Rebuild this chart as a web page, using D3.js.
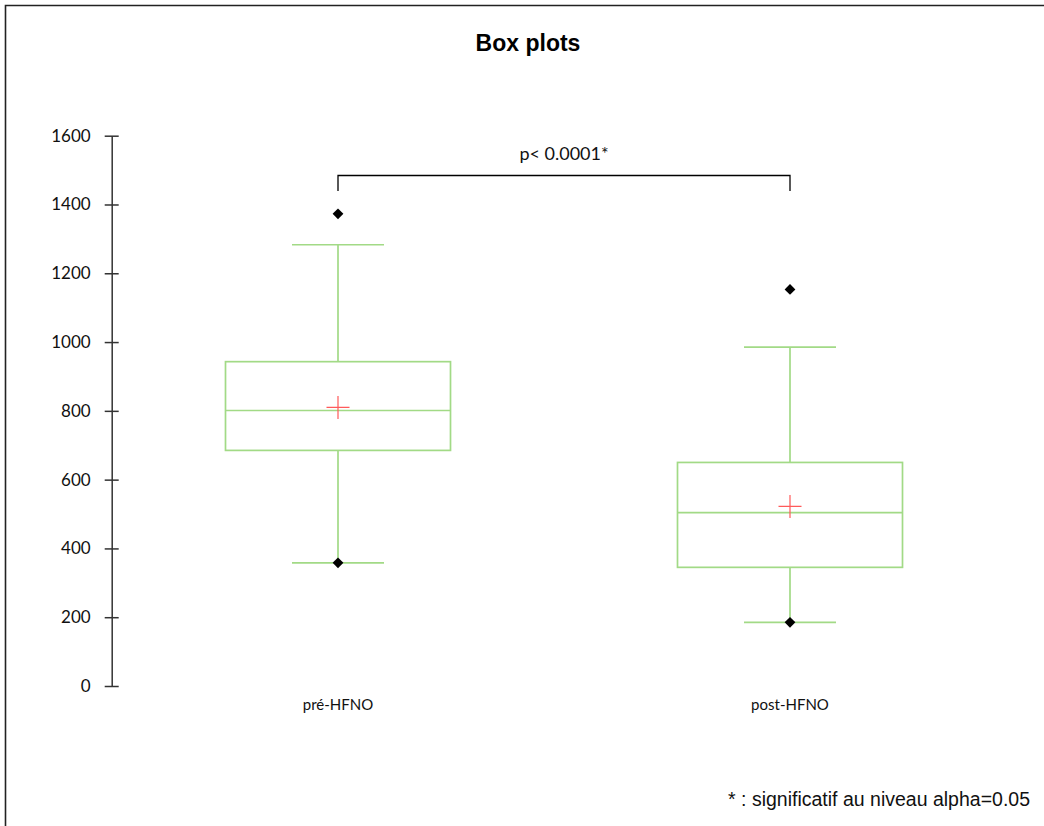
<!DOCTYPE html>
<html>
<head>
<meta charset="utf-8">
<script src="https://d3js.org/d3.v7.min.js"></script>
<style>
  body { margin: 0; background: #fff; }
  svg { display: block; }
</style>
</head>
<body>
<script>
// values
var categories = ["pré-HFNO", "post-HFNO"];
var q1 = [685, 345];
var medians = [801, 504];
var q3 = [943, 650];
var whiskerLow = [358, 185];
var whiskerHigh = [1283, 985];
var means = [810, 522];
var minima = [358, 185];
var maxima = [1373, 1153];
var yTicks = [0, 200, 400, 600, 800, 1000, 1200, 1400, 1600];
var pLabel = "p< 0.0001*";

var W = 1044, H = 826;
var green = "#a2da86", red = "#ff5a5a";

var svg = d3.select("body").append("svg")
    .attr("width", W)
    .attr("height", H);

// frame (top + left edge)
svg.append("path")
    .attr("d", "M5.5," + H + "V5.5H" + W)
    .attr("fill", "none")
    .attr("stroke", "#222")
    .attr("stroke-width", 1.6);

svg.append("text")
    .attr("x", 528).attr("y", 51)
    .attr("text-anchor", "middle")
    .style("font-family", "'Liberation Sans', Arial, sans-serif")
    .style("font-weight", "bold")
    .style("font-size", "23px")
    .text("Box plots");

var y = d3.scaleLinear().domain([0, 1600]).range([686, 135.7]);
var x = d3.scaleBand().domain(categories).range([112, 1016]).padding(0);
var cx = d => x(d) + x.bandwidth() / 2;

// y axis
var yAxis = svg.append("g")
    .attr("transform", "translate(111.7,0)")
    .call(d3.axisLeft(y).tickValues(yTicks).tickSize(7).tickSizeOuter(0).tickPadding(14).tickFormat(d3.format("d")));
yAxis.select(".domain").attr("stroke", "#333").attr("stroke-width", 1.5);
yAxis.selectAll(".tick line").attr("x1", 7).attr("stroke", "#333").attr("stroke-width", 1.5);
yAxis.selectAll(".tick text")
    .attr("fill", "#111")
    .style("font-family", "Lato, 'Open Sans', sans-serif")
    .style("font-size", "17px");

// category labels
svg.selectAll(".cat").data(categories).enter().append("text")
    .attr("class", "cat")
    .attr("x", d => cx(d))
    .attr("y", 710)
    .attr("text-anchor", "middle")
    .attr("fill", "#111")
    .style("font-family", "Lato, 'Open Sans', sans-serif")
    .style("font-size", "15px")
    .text(d => d);

var boxHalf = 112.5, capHalf = 46, crossHalf = 11.5;

categories.forEach(function(c, i) {
  var g = svg.append("g");
  var m = cx(c);
  // whiskers
  g.append("line").attr("x1", m).attr("x2", m).attr("y1", y(q3[i])).attr("y2", y(whiskerHigh[i]));
  g.append("line").attr("x1", m).attr("x2", m).attr("y1", y(q1[i])).attr("y2", y(whiskerLow[i]));
  g.append("line").attr("x1", m - capHalf).attr("x2", m + capHalf).attr("y1", y(whiskerHigh[i])).attr("y2", y(whiskerHigh[i]));
  g.append("line").attr("x1", m - capHalf).attr("x2", m + capHalf).attr("y1", y(whiskerLow[i])).attr("y2", y(whiskerLow[i]));
  // box
  g.append("rect")
      .attr("x", m - boxHalf).attr("width", boxHalf * 2)
      .attr("y", y(q3[i])).attr("height", y(q1[i]) - y(q3[i]))
      .attr("fill", "none");
  g.append("line").attr("x1", m - boxHalf).attr("x2", m + boxHalf).attr("y1", y(medians[i])).attr("y2", y(medians[i]));
  g.selectAll("line, rect").attr("stroke", green).attr("stroke-width", 1.7);
  // mean cross
  g.append("path")
      .attr("d", "M" + (m - crossHalf) + "," + y(means[i]) + "H" + (m + crossHalf) +
                 "M" + m + "," + (y(means[i]) - crossHalf) + "V" + (y(means[i]) + crossHalf))
      .attr("stroke", red).attr("stroke-width", 1.2).attr("fill", "none");
  // min / max markers
  [minima[i], maxima[i]].forEach(function(v) {
    g.append("path")
        .attr("d", d3.symbol().type(d3.symbolSquare).size(58)())
        .attr("transform", "translate(" + m + "," + y(v) + ") rotate(45)")
        .attr("fill", "#000");
  });
});

// significance bracket
var bTop = 175.5, bBot = 191;
svg.append("path")
    .attr("d", "M" + cx(categories[0]) + "," + bBot + "V" + bTop + "H" + cx(categories[1]) + "V" + bBot)
    .attr("fill", "none")
    .attr("stroke", "#000")
    .attr("stroke-width", 1.3);
svg.append("text")
    .attr("x", (cx(categories[0]) + cx(categories[1])) / 2)
    .attr("y", 160)
    .attr("text-anchor", "middle")
    .attr("fill", "#111")
    .style("font-family", "Lato, 'Open Sans', sans-serif")
    .style("font-size", "18px")
    .text(pLabel);

svg.append("text")
    .attr("x", 1030).attr("y", 806)
    .attr("text-anchor", "end")
    .attr("fill", "#111")
    .style("font-family", "'Liberation Sans', Arial, sans-serif")
    .style("font-size", "19.5px")
    .text("* : significatif au niveau alpha=0.05");
</script>
</body>
</html>
